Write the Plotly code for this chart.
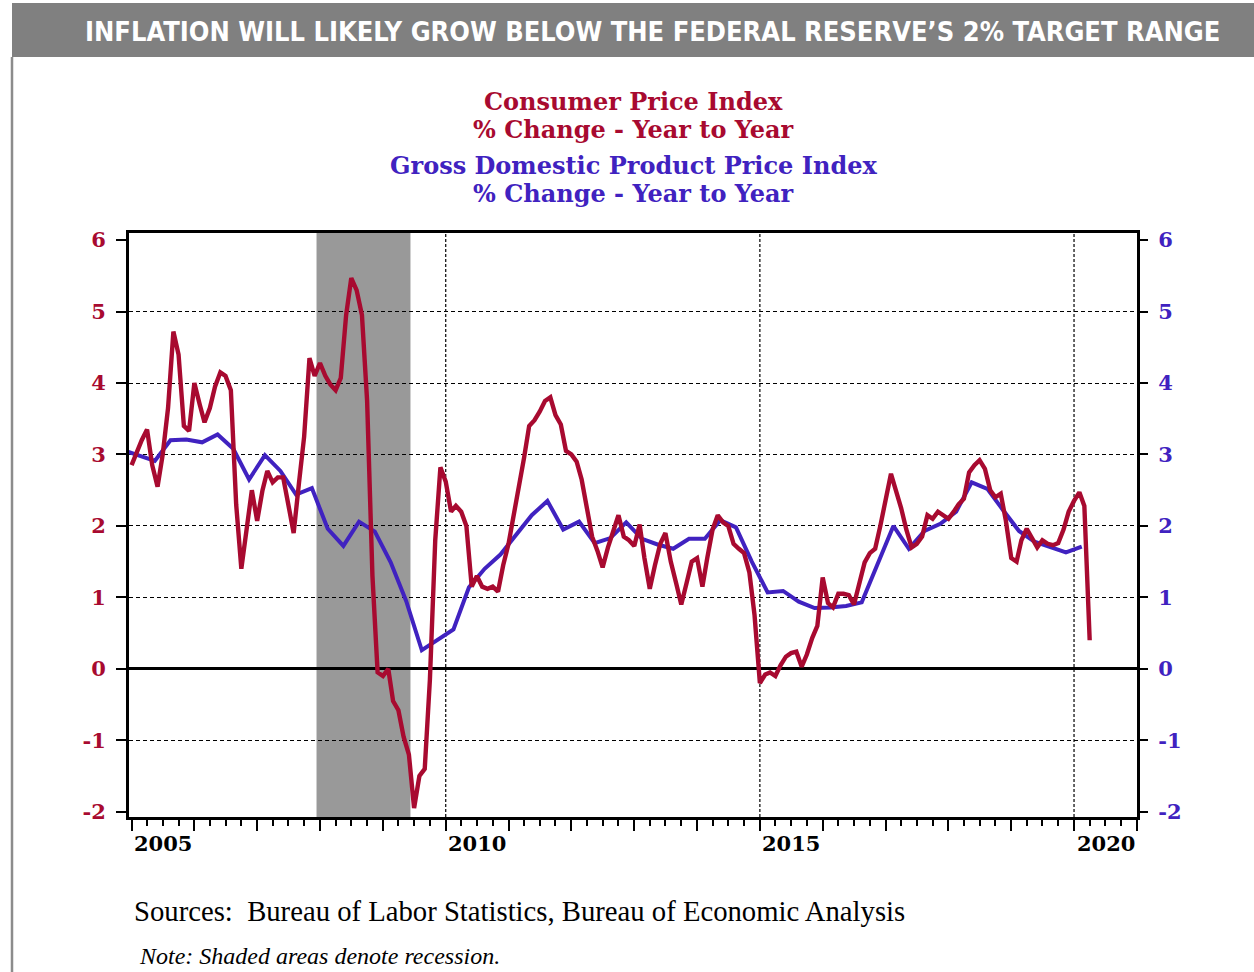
import pandas as pd
import plotly.graph_objects as go

# ---------------- data ----------------
cpi_start = "2005-01-01"   # monthly, % change year to year
cpi_yoy = [
    2.85, 3.05, 3.2, 3.35, 2.85, 2.55, 3.0, 3.65, 4.72, 4.4, 3.4, 3.33,      # 2005
    4.0, 3.7, 3.45, 3.65, 3.95, 4.15, 4.1, 3.9, 2.3, 1.4, 2.0, 2.5,          # 2006
    2.07, 2.5, 2.77, 2.61, 2.68, 2.68, 2.3, 1.9, 2.6, 3.25, 4.35, 4.1,       # 2007
    4.28, 4.1, 3.98, 3.9, 4.07, 4.95, 5.47, 5.3, 4.95, 3.75, 1.3, -0.05,     # 2008
    -0.1, 0.0, -0.45, -0.58, -0.95, -1.2, -1.95, -1.5, -1.4, -0.15, 1.8, 2.82,  # 2009
    2.62, 2.2, 2.28, 2.2, 2.0, 1.15, 1.3, 1.15, 1.12, 1.15, 1.08, 1.45,      # 2010
    1.75, 2.15, 2.55, 2.95, 3.4, 3.48, 3.6, 3.75, 3.8, 3.55, 3.42, 3.05,     # 2011
    3.0, 2.9, 2.65, 2.25, 1.85, 1.65, 1.42, 1.7, 1.95, 2.15, 1.85, 1.8,      # 2012
    1.72, 2.02, 1.55, 1.12, 1.45, 1.75, 1.9, 1.5, 1.2, 0.9, 1.2, 1.5,        # 2013
    1.55, 1.15, 1.55, 1.95, 2.15, 2.05, 2.0, 1.75, 1.68, 1.62, 1.35, 0.75,   # 2014
    -0.2, -0.08, -0.05, -0.1, 0.05, 0.17, 0.22, 0.24, 0.03, 0.2, 0.43, 0.6,  # 2015
    1.28, 0.92, 0.86, 1.05, 1.05, 1.03, 0.9, 1.2, 1.49, 1.62, 1.68, 2.0,     # 2016
    2.4, 2.73, 2.5, 2.25, 1.95, 1.7, 1.75, 1.85, 2.15, 2.1, 2.2, 2.15,       # 2017
    2.1, 2.2, 2.3, 2.38, 2.75, 2.85, 2.92, 2.8, 2.5, 2.4, 2.45, 2.07,        # 2018
    1.55, 1.5, 1.8, 1.96, 1.82, 1.7, 1.8, 1.75, 1.73, 1.76, 1.95, 2.2,       # 2019
    2.35, 2.47, 2.28, 0.4,                                                   # 2020
]

gdp_start = "2004-10-01"   # quarterly, % change year to year (plotted mid-quarter)
gdp_yoy = [
    3.06,                           # 2004 Q4
    2.98, 2.91, 3.2, 3.21,          # 2005
    3.17, 3.28, 3.08, 2.65,         # 2006
    2.99, 2.77, 2.44, 2.53,         # 2007
    1.96, 1.72, 2.06, 1.92,         # 2008
    1.49, 0.95, 0.26, 0.4,          # 2009
    0.55, 1.14, 1.4, 1.6,           # 2010
    1.88, 2.15, 2.35, 1.95,         # 2011
    2.06, 1.76, 1.83, 2.05,         # 2012
    1.82, 1.74, 1.68, 1.82,         # 2013
    1.82, 2.08, 1.98, 1.5,          # 2014
    1.07, 1.09, 0.94, 0.85,         # 2015
    0.86, 0.88, 0.93, 1.47,         # 2016
    2.0, 1.68, 1.93, 2.03,          # 2017
    2.2, 2.61, 2.52, 2.22,          # 2018
    1.93, 1.78, 1.7, 1.63,          # 2019
    1.71,                           # 2020 Q1
]

recession = ("2007-12-12", "2009-06-10")
year_labels = [2005, 2010, 2015, 2020]
vgrid_years = [2010, 2015, 2020]
y_ticks = [-2, -1, 0, 1, 2, 3, 4, 5, 6]
y_ticktext = ["-2", "-1", "0", "1", "2", "3", "4", "5", "6"]
y_grid = [-1, 1, 2, 3, 4, 5]

main_title = "INFLATION WILL LIKELY GROW BELOW THE FEDERAL RESERVE\u2019S 2% TARGET RANGE"
cpi_title = ["Consumer Price Index", "% Change - Year to Year"]
gdp_title = ["Gross Domestic Product Price Index", "% Change - Year to Year"]
source_text = "Sources:&nbsp; Bureau of Labor Statistics, Bureau of Economic Analysis"
note_text = "Note: Shaded areas denote recession."

# ---------------- style ----------------
RED = "#A80A30"
BLUE = "#4022C0"
SERIF_B = "DejaVu Serif"
W, H = 1254, 972
L, R, T, B = 129, 1137, 233, 817


def px(xp):
    return (xp - L) / (R - L)


def py(yp):
    return (B - yp) / (B - T)


cpi_dates = pd.date_range(cpi_start, periods=len(cpi_yoy), freq="MS")
gdp_dates = pd.date_range(gdp_start, periods=len(gdp_yoy), freq="QS") + pd.Timedelta(days=45)

fig = go.Figure()
fig.add_trace(go.Scatter(x=gdp_dates, y=gdp_yoy, mode="lines",
                         line=dict(color=BLUE, width=4), name="GDP Price Index",
                         showlegend=False))
fig.add_trace(go.Scatter(x=cpi_dates, y=cpi_yoy, mode="lines",
                         line=dict(color=RED, width=4.4), name="CPI",
                         showlegend=False))
# invisible traces to activate the extra y axes
fig.add_trace(go.Scatter(x=[cpi_dates[0]], y=[0], yaxis="y2", mode="markers",
                         marker=dict(opacity=0), showlegend=False, hoverinfo="skip"))
fig.add_trace(go.Scatter(x=[cpi_dates[0]], y=[0], yaxis="y3", mode="markers",
                         marker=dict(opacity=0), showlegend=False, hoverinfo="skip"))

yr = [-2.074, 6.1]
fig.update_layout(
    width=W, height=H, autosize=False,
    margin=dict(l=L, r=W - R, t=T, b=H - B, pad=0),
    paper_bgcolor="white", plot_bgcolor="white",
    xaxis=dict(
        type="date", range=["2004-12-17", "2021-01-01"],
        tick0="2005-01-01", dtick="M12", ticks="outside", ticklen=11, tickwidth=2,
        tickcolor="black", showticklabels=False, showgrid=False, zeroline=False,
        showline=True, linecolor="black", linewidth=3, mirror=True,
        minor=dict(dtick="M3", tick0="2005-01-01", ticks="outside", ticklen=6,
                   tickwidth=1.5, tickcolor="black", showgrid=False),
    ),
    yaxis=dict(
        range=yr, tickmode="array", tickvals=y_ticks, ticktext=y_ticktext,
        ticks="outside", ticklen=10,
        tickwidth=1.5, tickcolor="black", ticklabelstandoff=6,
        tickfont=dict(family=SERIF_B, size=21, color=RED, weight="bold"),
        showgrid=False, zeroline=True, zerolinecolor="black", zerolinewidth=2.5,
        showline=True, linecolor="black", linewidth=3, mirror=True,
    ),
    yaxis2=dict(
        range=yr, overlaying="y", side="right", tickmode="array", tickvals=y_ticks,
        ticktext=y_ticktext,
        ticks="outside", ticklen=10, tickwidth=1.5, tickcolor="black",
        ticklabelstandoff=6,
        tickfont=dict(family=SERIF_B, size=21, color=BLUE, weight="bold"),
        showgrid=False, zeroline=False, showline=False,
    ),
    yaxis3=dict(
        range=yr, overlaying="y", tickmode="array", tickvals=y_grid,
        ticks="", showticklabels=False, showgrid=True, gridcolor="black",
        gridwidth=1.2, griddash="4px,3px", zeroline=False, showline=False,
    ),
)

shapes = [
    # title bar
    dict(type="rect", xref="paper", yref="paper", x0=px(12), x1=px(1254),
         y0=py(57), y1=py(3), fillcolor="#808080", line=dict(width=0)),
    # left border of the panel
    dict(type="line", xref="paper", yref="paper", x0=px(12), x1=px(12),
         y0=py(57), y1=py(972), line=dict(color="#8c8c8c", width=2.5)),
    # recession shading
    dict(type="rect", xref="x", yref="paper", x0=recession[0], x1=recession[1],
         y0=0, y1=1, fillcolor="#999999", line=dict(width=0), layer="below"),
]
for yv in vgrid_years:
    shapes.append(dict(type="line", xref="x", yref="paper", x0=f"{yv}-01-01",
                       x1=f"{yv}-01-01", y0=0, y1=1, layer="below",
                       line=dict(color="black", width=1.2, dash="3px,2px")))
fig.update_layout(shapes=shapes)

ann = []
ann.append(dict(text=f"<b>{main_title}</b>", xref="paper", yref="paper",
                x=px(652), y=py(31), xanchor="center", yanchor="middle",
                showarrow=False,
                font=dict(family="Liberation Sans Narrow, DejaVu Sans Condensed, sans-serif",
                          size=27, color="white")))
for text, ypx, col in [(cpi_title[0], 101, RED), (cpi_title[1], 130, RED),
                       (gdp_title[0], 166, BLUE), (gdp_title[1], 194, BLUE)]:
    ann.append(dict(text=f"<b>{text}</b>", xref="paper", yref="paper", x=px(633),
                    y=py(ypx), xanchor="center", yanchor="middle", showarrow=False,
                    font=dict(family=SERIF_B, size=24, color=col)))
for yv in year_labels:
    ann.append(dict(text=f"<b>{yv}</b>", xref="x", yref="paper", x=f"{yv}-07-02", y=0,
                    xanchor="center", yanchor="top", yshift=-12, showarrow=False,
                    font=dict(family=SERIF_B, size=21, color="black")))
ann.append(dict(text=source_text, xref="paper", yref="paper", x=px(132), y=py(911),
                xanchor="left", yanchor="middle", showarrow=False,
                font=dict(family="Liberation Serif", size=28.7, color="black")))
ann.append(dict(text=f"<i>{note_text}</i>", xref="paper", yref="paper", x=px(137),
                y=py(956), xanchor="left", yanchor="middle", showarrow=False,
                font=dict(family="Liberation Serif", size=24, color="black")))
fig.update_layout(annotations=ann)

fig.write_html("out.html",
               config={"displayModeBar": False},
               post_script="document.body.style.margin='0px';document.body.style.overflow='hidden';")
